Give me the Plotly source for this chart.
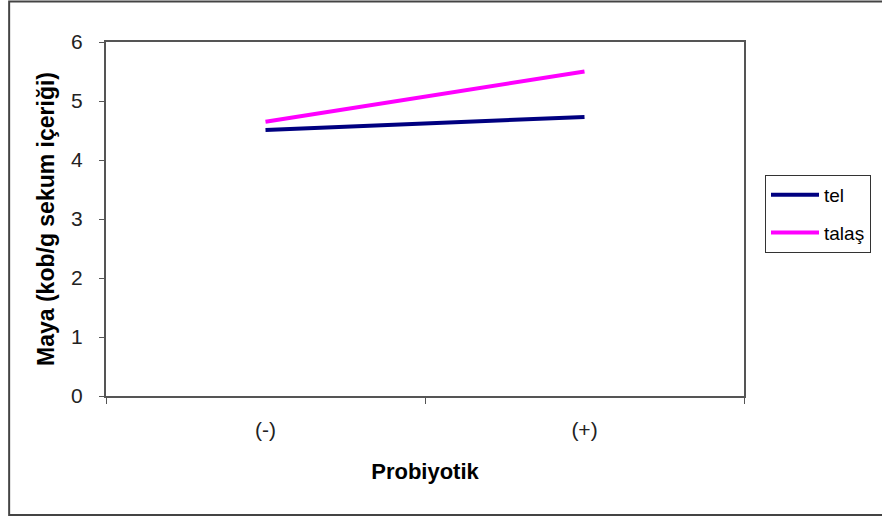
import plotly.graph_objects as go

categories = ["(-)", "(+)"]
tel = [4.51, 4.73]
talas = [4.65, 5.50]
series_names = ["tel", "talaş"]
y_ticks = [0, 1, 2, 3, 4, 5, 6]

L, R, T, B = 106, 745, 42, 396
W, H = 882, 518
pw, ph = R - L, B - T

fig = go.Figure()
fig.add_trace(go.Scatter(x=categories, y=tel, mode="lines", name=series_names[0],
                         legendgroup="a",
                         line=dict(color="#000080", width=4)))
fig.add_trace(go.Scatter(x=categories, y=talas, mode="lines", name=series_names[1],
                         legendgroup="b",
                         line=dict(color="#FF00FF", width=4)))

font = "Liberation Sans, Arial, sans-serif"

def px_x(p):
    return (p - L) / pw

def px_y(p):
    return (B - p) / ph

fig.update_layout(
    width=W, height=H,
    margin=dict(l=L, r=W - R, t=T, b=H - B),
    paper_bgcolor="white", plot_bgcolor="white",
    font=dict(family=font, size=19, color="black"),
    showlegend=True,
    legend=dict(x=px_x(765), y=px_y(175), xanchor="left", yanchor="top",
                bordercolor="#333333", borderwidth=1, bgcolor="white",
                font=dict(size=19), tracegroupgap=10, traceorder="grouped",
                itemwidth=48),
    xaxis=dict(type="category", range=[-0.5, 1.5], tickson="boundaries",
               showline=True, linecolor="#555555", linewidth=2, mirror=True,
               ticks="outside", ticklen=6, tickcolor="#555555",
               showgrid=False, zeroline=False,
               tickfont=dict(size=21, color="#222222"), ticklabelstandoff=14,
               title=dict(text="<b>Probiyotik</b>", font=dict(size=22), standoff=23)),
    yaxis=dict(range=[0, 6], tickvals=y_ticks, showline=True, linecolor="#555555",
               linewidth=2, mirror=True, ticks="outside", ticklen=5,
               tickcolor="#555555", showgrid=False, zeroline=False,
               tickfont=dict(size=21, color="#222222"), ticklabelstandoff=12,
               title=dict(text="<b>Maya (kob/g sekum içeriği)</b>", font=dict(size=23), standoff=10)),
    shapes=[dict(type="rect", xref="paper", yref="paper",
                 x0=px_x(9), x1=px_x(890), y0=px_y(515), y1=px_y(1.5),
                 line=dict(color="#444444", width=2), fillcolor="rgba(0,0,0,0)",
                 layer="below")],
)

fig.write_html("out.html", config={"displayModeBar": False},
               post_script="document.body.style.margin='0';document.body.style.padding='0';window.dispatchEvent(new Event('resize'));")
